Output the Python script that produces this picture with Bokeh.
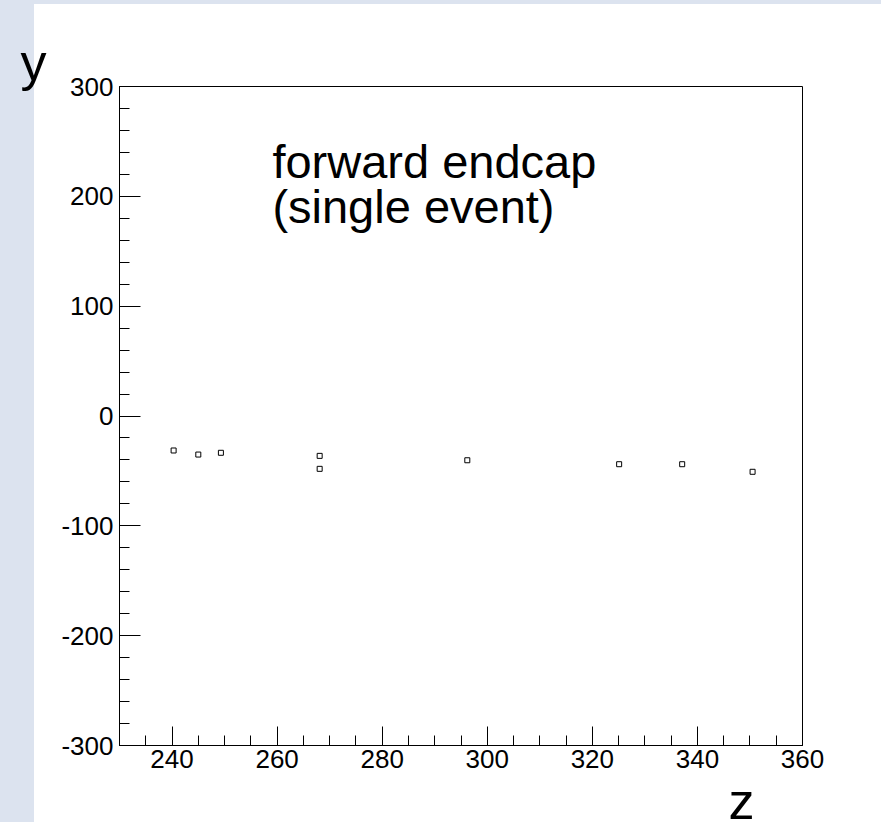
from bokeh.plotting import figure
from bokeh.models import Range1d, SingleIntervalTicker, Label, CustomJSTickFormatter, Title
from bokeh.embed import file_html
from bokeh.resources import INLINE

# data
z_vals = [240.3, 245.0, 249.3, 268.1, 268.1, 296.2, 325.1, 337.1, 350.5]
y_vals = [-31.4, -35.1, -33.5, -36.3, -48.1, -40.3, -43.9, -43.9, -50.8]
x_limits = [230, 360]
y_limits = [-300, 300]
title_lines = ["forward endcap", "(single event)"]

FONT = "Liberation Sans"
BLUE = "#dce3ef"

p = figure(width=881, height=830, output_backend="svg", toolbar_location=None,
           x_range=Range1d(*x_limits), y_range=Range1d(*y_limits),
           min_border_left=119, min_border_top=86, min_border_right=79, min_border_bottom=85,
           styles={"background-color": "white",
                   "background-image": f"linear-gradient(to bottom, {BLUE} 4px, transparent 4px), "
                                       f"linear-gradient(to right, {BLUE} 34px, white 34px)"})
p.border_fill_color = None
p.background_fill_color = "white"
p.outline_line_color = "black"
p.outline_line_width = 1
p.grid.visible = False

p.xaxis.ticker = SingleIntervalTicker(interval=20, num_minor_ticks=4)
p.yaxis.ticker = SingleIntervalTicker(interval=100, num_minor_ticks=5)
for ax, mj in ((p.xaxis, 19), (p.yaxis, 21)):
    ax.major_tick_in = mj
    ax.major_tick_out = 0
    ax.minor_tick_in = 10
    ax.minor_tick_out = 0
    ax.axis_line_color = "black"
    ax.major_tick_line_color = "black"
    ax.minor_tick_line_color = "black"
    ax.major_label_text_font = FONT
    ax.major_label_text_font_size = "26px"
    ax.major_label_text_color = "black"
    ax.formatter = CustomJSTickFormatter(code="return tick.toFixed(0);")
p.xaxis.major_label_standoff = 4
p.yaxis.major_label_standoff = 6

p.scatter(z_vals, y_vals, marker="square", size=5, line_color="black",
          fill_color="white", line_width=1)

# axis names as titles (outside the frame)
p.add_layout(Title(text="y", align="left", offset=-99, standoff=-8,
                   text_font=FONT, text_font_size="52px", text_font_style="normal",
                   text_color="black"), "above")
p.add_layout(Title(text="z", align="left", offset=609, standoff=-1,
                   text_font=FONT, text_font_size="52px", text_font_style="normal",
                   text_color="black"), "below")

def lab(x, y, text, size):
    p.add_layout(Label(x=x, y=y, text=text, text_font=FONT, text_font_size=size,
                       text_color="black", text_baseline="alphabetic", text_align="left"))

lab(259.1, 232.0, title_lines[0], "47px")
lab(259.1, 190.5, title_lines[1], "47px")

open("out.html", "w").write(file_html(p, INLINE))
